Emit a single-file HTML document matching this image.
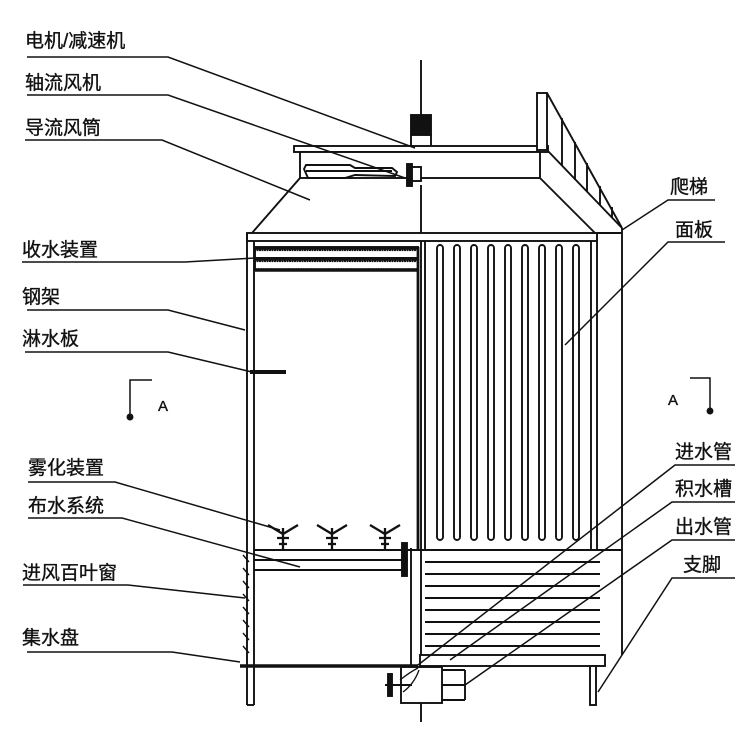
<!DOCTYPE html>
<html><head><meta charset="utf-8"><style>
html,body{margin:0;padding:0;background:#fff}
svg{display:block}
text{font-family:"Liberation Sans","Noto Sans CJK SC",sans-serif;font-size:19px;fill:#111;stroke:#111;stroke-width:0.35}
</style></head><body>
<svg width="750" height="750" viewBox="0 0 750 750" xmlns="http://www.w3.org/2000/svg">
<defs>
<pattern id="coil" width="5" height="11" patternUnits="userSpaceOnUse">
<rect width="5" height="11" fill="#fff"/>
<path d="M0 9 Q1.25 1 2.5 9 Q3.75 1 5 9" fill="none" stroke="#111" stroke-width="1.8"/>
</pattern>
</defs>
<g stroke="#111" fill="none" stroke-width="1.9">
<line x1="421" y1="60" x2="421" y2="130"/>
<line x1="421" y1="185" x2="421" y2="722"/>
<rect x="411" y="115" width="20" height="20" fill="#111"/>
<rect x="411" y="135" width="20" height="12" fill="#fff"/>
<rect x="294" y="146" width="254" height="6" fill="#fff"/>
<rect x="300" y="152" width="240" height="26" fill="#fff"/>
<path d="M304 169 L306 165 L350 165 L355 168 L392 168 L397 172 L395 176 L355 175 L345 178 L308 178 Z" fill="#fff"/>
<line x1="306" y1="171" x2="392" y2="171"/>
<rect x="407" y="164" width="5" height="22" fill="#111"/>
<rect x="412" y="167" width="9" height="14" fill="#fff"/>
<line x1="300" y1="178" x2="252" y2="233"/>
<line x1="540" y1="178" x2="595" y2="233"/>
<rect x="537" y="93" width="10" height="57" fill="#fff"/>
<line x1="547" y1="93" x2="622" y2="228"/>
<line x1="547" y1="150" x2="622" y2="228"/>
<line x1="562" y1="118" x2="562" y2="165"/>
<line x1="575" y1="142" x2="575" y2="180"/>
<line x1="587" y1="163" x2="587" y2="192"/>
<line x1="600" y1="186" x2="600" y2="205"/>
<line x1="612" y1="207" x2="612" y2="218"/>
<rect x="247" y="233" width="350" height="8" fill="#fff"/>
<line x1="597" y1="233" x2="622" y2="233"/>
<line x1="622" y1="228" x2="622" y2="655"/>
<line x1="597" y1="241" x2="597" y2="550"/>
<line x1="591" y1="241" x2="591" y2="550"/>
<line x1="247" y1="233" x2="247" y2="705"/>
<line x1="254" y1="241" x2="254" y2="705"/>
<line x1="247" y1="705" x2="254" y2="705"/>
<rect x="255" y="247" width="163" height="23" fill="url(#coil)" stroke="#111"/>
<line x1="255" y1="258" x2="418" y2="258" stroke-width="2"/>
<line x1="255" y1="270" x2="418" y2="270" stroke-width="3.5"/>
<line x1="418" y1="247" x2="418" y2="550" stroke-width="2.8"/>
<line x1="425" y1="241" x2="425" y2="550"/>
<g>
<rect x="437" y="245" width="6" height="295" rx="3"/>
<rect x="454" y="245" width="6" height="295" rx="3"/>
<rect x="471" y="245" width="6" height="295" rx="3"/>
<rect x="488" y="245" width="6" height="295" rx="3"/>
<rect x="505" y="245" width="6" height="295" rx="3"/>
<rect x="522" y="245" width="6" height="295" rx="3"/>
<rect x="539" y="245" width="6" height="295" rx="3"/>
<rect x="556" y="245" width="6" height="295" rx="3"/>
<rect x="573" y="245" width="6" height="295" rx="3"/>
</g>
<line x1="254" y1="550" x2="622" y2="550"/>
<line x1="254" y1="560" x2="408" y2="560"/>
<line x1="254" y1="570" x2="408" y2="570"/>
<rect x="402" y="543" width="5" height="33" fill="#111"/>
<line x1="411" y1="548" x2="411" y2="665"/>
<g>
<line x1="425" y1="562" x2="600" y2="562"/>
<line x1="425" y1="574" x2="600" y2="574"/>
<line x1="425" y1="586" x2="600" y2="586"/>
<line x1="425" y1="598" x2="600" y2="598"/>
<line x1="425" y1="610" x2="600" y2="610"/>
<line x1="425" y1="622" x2="600" y2="622"/>
<line x1="425" y1="634" x2="600" y2="634"/>
<line x1="425" y1="646" x2="600" y2="646"/>
</g>
<rect x="420" y="655" width="185" height="11" fill="#fff"/>
<line x1="240" y1="666" x2="418" y2="666" stroke-width="3.5"/>
<rect x="590" y="666" width="6" height="39" fill="#fff"/>
<path d="M243 555 l6 7 M243 568 l6 7 M243 581 l6 7 M243 594 l6 7 M243 607 l6 7 M243 620 l6 7 M243 633 l6 7 M243 646 l6 7" stroke-width="1.4"/>
<rect x="401" y="667" width="41" height="36" fill="#fff"/>
<line x1="442" y1="670" x2="465" y2="670"/>
<line x1="442" y1="685" x2="465" y2="685"/>
<line x1="442" y1="700" x2="465" y2="700"/>
<line x1="465" y1="670" x2="465" y2="700"/>
<line x1="385" y1="685" x2="412" y2="685"/>
<rect x="388" y="674" width="4" height="22" fill="#111"/>
<path d="M400 680 Q410 672 418 668 M403 692 Q414 684 419 670" stroke-width="1.3"/>
<g stroke-width="2.3">
<path d="M268 525 L283 534 L298 525 M283 528 L283 550 M277 538 H289 M279 544 H287"/>
<path d="M317 525 L332 534 L347 525 M332 528 L332 550 M326 538 H338 M328 544 H336"/>
<path d="M370 525 L385 534 L400 525 M385 528 L385 550 M379 538 H391 M381 544 H389"/>
</g>
<g stroke-width="1.5">
<polyline points="27,57 168,57 415,148"/>
<polyline points="27,95 168,95 405,178"/>
<polyline points="25,140 162,140 310,200"/>
<polyline points="22,262 185,262 255,258"/>
<polyline points="27,310 168,310 245,330"/>
<polyline points="25,352 168,352 252,372"/>
<line x1="250" y1="372" x2="286" y2="372" stroke-width="4"/>
<polyline points="28,482 115,482 280,530"/>
<polyline points="28,518 122,518 300,567"/>
<polyline points="23,585 128,585 245,598"/>
<polyline points="27,652 172,652 240,662"/>
<polyline points="715,200 668,200 622,230"/>
<polyline points="725,242 668,242 565,345"/>
<polyline points="735,465 675,465 418,665"/>
<polyline points="735,502 672,502 450,660"/>
<polyline points="735,540 672,540 465,685"/>
<polyline points="735,578 672,578 598,692"/>
<polyline points="152,380 130,380 130,418"/>
<polyline points="690,378 710,378 710,413"/>
</g>
<circle cx="130" cy="417" r="2.5" fill="#111"/>
<circle cx="710" cy="411" r="2.5" fill="#111"/>
</g>
<text x="25" y="47">电机/减速机</text>
<text x="25" y="89">轴流风机</text>
<text x="25" y="134">导流风筒</text>
<text x="22" y="256">收水装置</text>
<text x="22" y="303">钢架</text>
<text x="22" y="345">淋水板</text>
<text x="28" y="474">雾化装置</text>
<text x="28" y="512">布水系统</text>
<text x="22" y="579">进风百叶窗</text>
<text x="22" y="644">集水盘</text>
<text x="670" y="193">爬梯</text>
<text x="675" y="236">面板</text>
<text x="675" y="458">进水管</text>
<text x="675" y="495">积水槽</text>
<text x="675" y="533">出水管</text>
<text x="683" y="571">支脚</text>
<text x="158" y="411" style="font-size:15px">A</text>
<text x="668" y="405" style="font-size:15px">A</text>
</svg>
</body></html>
